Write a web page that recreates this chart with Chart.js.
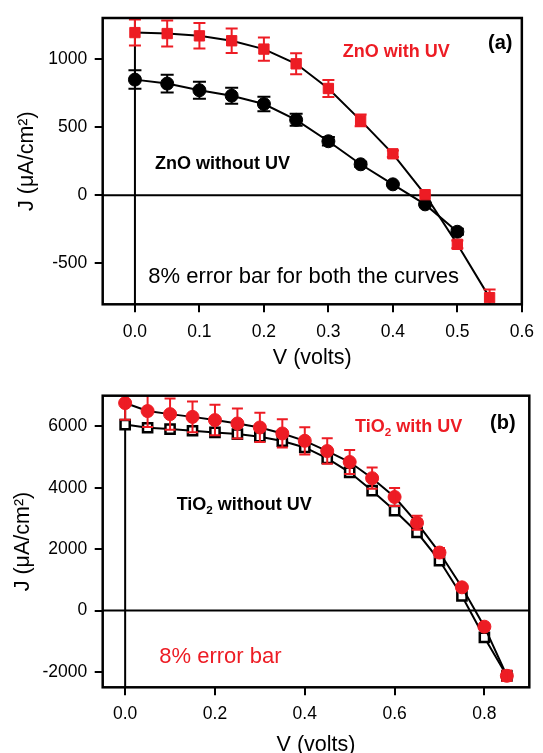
<!DOCTYPE html>
<html><head><meta charset="utf-8">
<script src="https://cdn.jsdelivr.net/npm/chart.js@4.4.1/dist/chart.umd.min.js"></script>
<style>
html,body{margin:0;padding:0;background:#fff;width:543px;height:753px;overflow:hidden;}
canvas{position:absolute;left:0;}
#c1{top:0;} #c2{top:372px;}
</style></head><body>
<canvas id="c1" width="543" height="372"></canvas>
<canvas id="c2" width="543" height="390"></canvas>
<script>
// ---- Data: panel (a) ZnO ----
const V_ZNO_UV   = [0, 0.05, 0.1, 0.15, 0.2, 0.25, 0.3, 0.35, 0.4, 0.45, 0.5, 0.55];
const J_ZNO_UV   = [1193, 1186, 1169, 1133, 1072, 964, 783, 549, 304, 4, -360, -751];
const V_ZNO_DARK = [0, 0.05, 0.1, 0.15, 0.2, 0.25, 0.3, 0.35, 0.4, 0.45, 0.5];
const J_ZNO_DARK = [848, 819, 770, 730, 669, 553, 396, 227, 80, -67, -268];
// ---- Data: panel (b) TiO2 ----
const V_TIO2      = [0, 0.05, 0.1, 0.15, 0.2, 0.25, 0.3, 0.35, 0.4, 0.45, 0.5, 0.55, 0.6, 0.65, 0.7, 0.75, 0.8, 0.85];
const J_TIO2_UV   = [6760, 6500, 6400, 6310, 6205, 6095, 5965, 5770, 5530, 5197, 4840, 4313, 3700, 2860, 1890, 757, -525, -2125];
const J_TIO2_DARK = [6060, 5955, 5913, 5858, 5803, 5750, 5663, 5522, 5315, 4955, 4504, 3907, 3257, 2550, 1630, 475, -875, -2125];
// error bars: 8% of each value (as stated on the chart)
const ERROR_FRACTION = 0.08;
// ---- Ticks ----
const X_TICKS_A = [0, 0.1, 0.2, 0.3, 0.4, 0.5, 0.6];
const Y_TICKS_A = [-500, 0, 500, 1000];
const X_TICKS_B = [0, 0.2, 0.4, 0.6, 0.8];
const Y_TICKS_B = [-2000, 0, 2000, 4000, 6000];

const RED = '#ed1c24';
const FONT = "'Liberation Sans', Arial, sans-serif";
Chart.defaults.font.family = FONT;
Chart.defaults.color = '#000';

const pts = (xs, ys) => xs.map((v, i) => ({x: v, y: ys[i]}));
const errs = ys => ys.map(v => Math.abs(v) * ERROR_FRACTION);

const framePlugin = {
  id: 'frame',
  beforeDatasetsDraw(chart) {
    const {ctx, chartArea: a, scales: {x, y}} = chart;
    const y0 = y.getPixelForValue(0), x0 = x.getPixelForValue(0);
    ctx.save();
    ctx.strokeStyle = '#000'; ctx.lineWidth = 2;
    ctx.beginPath();
    ctx.moveTo(a.left, y0); ctx.lineTo(a.right, y0);
    ctx.moveTo(x0, a.top); ctx.lineTo(x0, a.bottom);
    ctx.stroke();
    ctx.restore();
  },
  afterDraw(chart) {
    const {ctx, chartArea: a} = chart;
    ctx.save();
    ctx.strokeStyle = '#000'; ctx.lineWidth = 2.5;
    ctx.strokeRect(a.left, a.top, a.right - a.left, a.bottom - a.top);
    ctx.restore();
  }
};

const errorBarPlugin = {
  id: 'errorBars',
  afterDatasetDraw(chart, args) {
    const ds = chart.data.datasets[args.index];
    if (!ds.errorBars) return;
    const {ctx, chartArea: a, scales: {x, y}} = chart;
    ctx.save();
    ctx.beginPath(); ctx.rect(a.left, a.top, a.right - a.left, a.bottom - a.top); ctx.clip();
    ctx.strokeStyle = ds.errorColor; ctx.lineWidth = 2;
    const cap = ds.capWidth / 2;
    ds.data.forEach((p, i) => {
      const e = ds.errorBars[i];
      const px = x.getPixelForValue(p.x);
      const yt = y.getPixelForValue(p.y + e), yb = y.getPixelForValue(p.y - e);
      ctx.beginPath();
      ctx.moveTo(px, yt); ctx.lineTo(px, yb);
      ctx.moveTo(px - cap, yt); ctx.lineTo(px + cap, yt);
      ctx.moveTo(px - cap, yb); ctx.lineTo(px + cap, yb);
      ctx.stroke();
    });
    ctx.restore();
  }
};

const textPlugin = {
  id: 'texts',
  afterDraw(chart, args, opts) {
    const ctx = chart.ctx;
    (opts.items || []).forEach(it => {
      let x = it.x;
      ctx.save();
      ctx.fillStyle = it.color; ctx.textBaseline = 'alphabetic'; ctx.textAlign = 'left';
      it.parts.forEach(p => {
        const size = p.sub ? it.size * 0.65 : it.size;
        ctx.font = `${it.weight} ${size}px ${FONT}`;
        const dy = p.sub ? it.size * 0.22 : 0;
        ctx.fillText(p.text, x, it.y + dy);
        x += ctx.measureText(p.text).width;
      });
      ctx.restore();
    });
  }
};

function makeChart(id, cfg) {
  return new Chart(document.getElementById(id), {
    type: 'line',
    data: {datasets: cfg.datasets},
    plugins: [framePlugin, errorBarPlugin, textPlugin],
    options: {
      responsive: false, animation: false, devicePixelRatio: 1, events: [],
      layout: {padding: cfg.padding},
      plugins: {legend: {display: false}, tooltip: {enabled: false}, texts: {items: cfg.texts}},
      scales: {
        x: {
          type: 'linear', position: 'bottom', min: cfg.xMin, max: cfg.xMax,
          afterBuildTicks: s => { s.ticks = cfg.xTicks.map(v => ({value: v})); },
          afterFit: s => { s.height = cfg.xAxisHeight; },
          grid: {drawOnChartArea: false, drawTicks: true, tickLength: 8, color: '#000', lineWidth: 2},
          border: {display: false},
          ticks: {padding: cfg.xTickPad, color: '#000', font: {size: 17.5}, autoSkip: false, maxRotation: 0,
                  callback: v => Number(v).toFixed(1)},
          title: {display: true, text: 'V (volts)', color: '#000', font: {size: 21.5}, padding: {top: 0, bottom: cfg.xTitlePad}}
        },
        y: {
          type: 'linear', position: 'left', min: cfg.yMin, max: cfg.yMax,
          afterBuildTicks: s => { s.ticks = cfg.yTicks.map(v => ({value: v})); },
          afterFit: s => { s.width = cfg.yAxisWidth; },
          grid: {drawOnChartArea: false, drawTicks: true, tickLength: 8, color: '#000', lineWidth: 2},
          border: {display: false},
          ticks: {padding: 7.5, color: '#000', font: {size: 17.5}, autoSkip: false,
                  callback: v => String(v)},
          title: {display: true, text: 'J (μA/cm²)', color: '#000', font: {size: 21.5}, padding: {top: cfg.yTitlePad, bottom: 0}}
        }
      }
    }
  });
}

// Panel (a)
makeChart('c1', {
  padding: {top: 14, right: 14.7, left: 0, bottom: 0},
  xAxisHeight: 67.7, yAxisWidth: 102.7, xTickPad: 9, xTitlePad: 1.4, yTitlePad: 14,
  xMin: -0.05, xMax: 0.6, yMin: -800, yMax: 1300, xTicks: X_TICKS_A, yTicks: Y_TICKS_A,
  datasets: [
    {data: pts(V_ZNO_UV, J_ZNO_UV), order: 0, borderColor: '#000', borderWidth: 2, tension: 0, fill: false,
     pointStyle: 'rect', pointRadius: 7.3, pointBackgroundColor: RED, pointBorderColor: RED, pointBorderWidth: 1,
     errorBars: errs(J_ZNO_UV), errorColor: RED, capWidth: 12},
    {data: pts(V_ZNO_DARK, J_ZNO_DARK), order: 1, borderColor: '#000', borderWidth: 2, tension: 0, fill: false,
     pointStyle: 'circle', pointRadius: 6.5, pointBackgroundColor: '#000', pointBorderColor: '#000', pointBorderWidth: 1,
     errorBars: errs(J_ZNO_DARK), errorColor: '#000', capWidth: 13}
  ],
  texts: [
    {parts: [{text: '(a)'}], x: 488, y: 49, size: 20, weight: 'bold', color: '#000'},
    {parts: [{text: 'ZnO with UV'}], x: 342.7, y: 56.6, size: 18, weight: 'bold', color: RED},
    {parts: [{text: 'ZnO without UV'}], x: 155, y: 169, size: 18, weight: 'bold', color: '#000'},
    {parts: [{text: '8% error bar for both the curves'}], x: 148.3, y: 282.7, size: 22, weight: 'normal', color: '#000'}
  ]
});

// Panel (b)
makeChart('c2', {
  padding: {top: 23.7, right: 13.7, left: 0, bottom: 0},
  xAxisHeight: 74.7, yAxisWidth: 102.7, xTickPad: 8, xTitlePad: 4.4, yTitlePad: 10,
  xMin: -0.05, xMax: 0.9, yMin: -2500, yMax: 7000, xTicks: X_TICKS_B, yTicks: Y_TICKS_B,
  datasets: [
    {data: pts(V_TIO2, J_TIO2_UV), order: 0, borderColor: '#000', borderWidth: 2, tension: 0, fill: false,
     pointStyle: 'circle', pointRadius: 6.5, pointBackgroundColor: RED, pointBorderColor: RED, pointBorderWidth: 1,
     errorBars: errs(J_TIO2_UV), errorColor: RED, capWidth: 11},
    {data: pts(V_TIO2, J_TIO2_DARK), order: 1, borderColor: '#000', borderWidth: 2, tension: 0, fill: false,
     pointStyle: 'rect', pointRadius: 6.5, pointBackgroundColor: '#fff', pointBorderColor: '#000', pointBorderWidth: 2.5}
  ],
  texts: [
    {parts: [{text: '(b)'}], x: 490, y: 57, size: 20, weight: 'bold', color: '#000'},
    {parts: [{text: 'TiO'}, {text: '2', sub: true}, {text: ' with UV'}], x: 355, y: 59.7, size: 18, weight: 'bold', color: RED},
    {parts: [{text: 'TiO'}, {text: '2', sub: true}, {text: ' without UV'}], x: 176.7, y: 138, size: 18, weight: 'bold', color: '#000'},
    {parts: [{text: '8% error bar'}], x: 159.3, y: 291, size: 22, weight: 'normal', color: RED}
  ]
});
</script>
</body></html>
